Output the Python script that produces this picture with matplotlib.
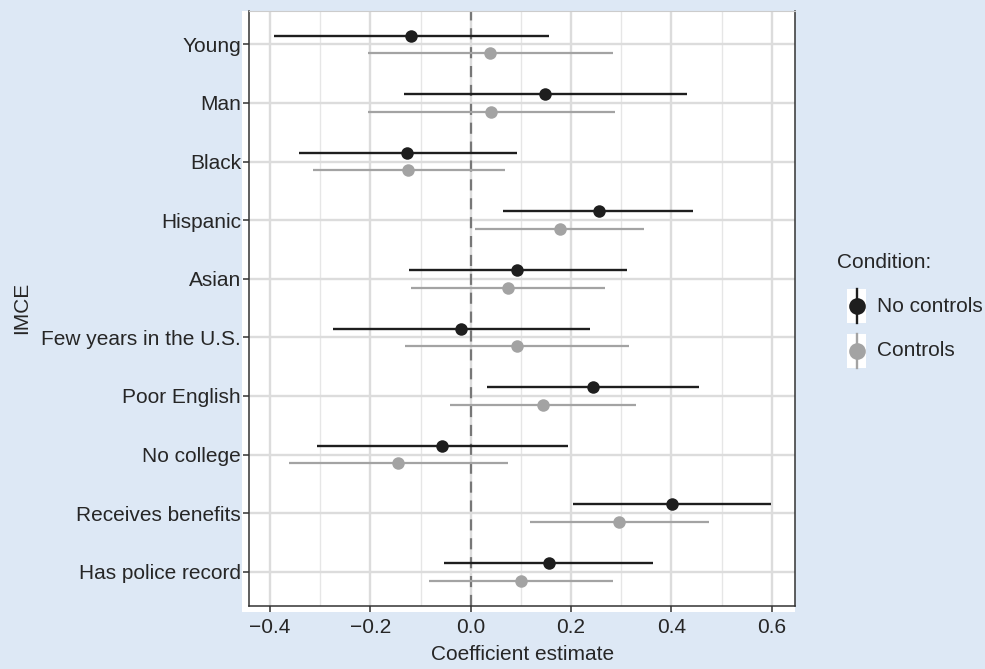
import matplotlib
matplotlib.use("Agg")
import matplotlib.pyplot as plt
from matplotlib.lines import Line2D
from matplotlib.patches import Rectangle
import numpy as np

plt.rcParams['font.family'] = ['Liberation Sans', 'DejaVu Sans']

categories = ["Young", "Man", "Black", "Hispanic", "Asian", "Few years in the U.S.",
              "Poor English", "No college", "Receives benefits", "Has police record"]

# No controls
nc_est = [-0.119, 0.148, -0.126, 0.255, 0.093, -0.019, 0.243, -0.057, 0.401, 0.157]
nc_lo = [-0.392, -0.133, -0.342, 0.065, -0.123, -0.274, 0.033, -0.307, 0.203, -0.054]
nc_hi = [0.156, 0.431, 0.092, 0.444, 0.311, 0.238, 0.455, 0.193, 0.598, 0.364]

# Controls
c_est = [0.039, 0.041, -0.124, 0.177, 0.075, 0.092, 0.144, -0.144, 0.295, 0.100]
c_lo = [-0.205, -0.205, -0.314, 0.009, -0.118, -0.130, -0.041, -0.363, 0.118, -0.084]
c_hi = [0.284, 0.287, 0.069, 0.345, 0.268, 0.315, 0.330, 0.075, 0.474, 0.283]

xticks = [-0.4, -0.2, 0.0, 0.2, 0.4, 0.6]
xminor = [-0.3, -0.1, 0.1, 0.3, 0.5]

W, H = 985, 669
BG = '#dde8f5'
BLACK = '#1e1e1e'
GREY = '#a3a3a3'
TXT = '#262626'
FS = 15

fig = plt.figure(figsize=(W / 100, H / 100), dpi=100, facecolor=BG)

def fx(px):
    return px / W

def fy(py):
    return 1 - py / H

# white panel background extending under ticks
fig.patches.append(Rectangle((fx(242), fy(612)), fx(795.3) - fx(242), fy(11) - fy(612),
                             transform=fig.transFigure, facecolor='white', edgecolor='none', zorder=-5))

ax = fig.add_axes([fx(249.3), fy(605.7), fx(795.3) - fx(249.3), fy(11) - fy(605.7)])
ax.set_facecolor('white')
ax.set_zorder(1)

n = len(categories)
ypos = np.arange(n, 0, -1, dtype=float)
off = 0.15

ax.set_xlim(-0.4413, 0.647)
ax.set_ylim(0.42, n + 0.57)

# grid
for v in xminor:
    ax.axvline(v, color='#e6e6e6', lw=1.0, zorder=1)
for v in xticks:
    ax.axvline(v, color='#dcdcdc', lw=1.7, zorder=1)
for y in ypos:
    ax.axhline(y, color='#dcdcdc', lw=1.7, zorder=1)

ax.axvline(0, color='#777777', lw=1.6, ls=(0, (5, 3.5)), zorder=2)

ax.hlines(ypos - off, c_lo, c_hi, color=GREY, lw=1.6, zorder=3)
ax.plot(c_est, ypos - off, 'o', color=GREY, ms=9, mec='none', zorder=4)
ax.hlines(ypos + off, nc_lo, nc_hi, color=BLACK, lw=1.7, zorder=3)
ax.plot(nc_est, ypos + off, 'o', color=BLACK, ms=9, mec='none', zorder=4)

ax.set_xticks(xticks)
ax.set_xticklabels([f"{t:.1f}".replace('-', '\u2212') for t in xticks])
ax.set_yticks(ypos)
ax.set_yticklabels(categories)
ax.tick_params(axis='both', length=4.5, width=1.1, color='#333333', labelsize=FS,
               labelcolor=TXT)
ax.tick_params(axis='y', pad=1.5)
ax.tick_params(axis='x', pad=4)

for s in ['left', 'bottom', 'right']:
    ax.spines[s].set_color('#333333')
    ax.spines[s].set_linewidth(1.1)
ax.spines['top'].set_color('#cccccc')
ax.spines['top'].set_linewidth(0.8)

ax.set_xlabel("Coefficient estimate", fontsize=FS, color=TXT, labelpad=6)
ax.set_ylabel("IMCE", fontsize=FS, color=TXT, labelpad=7)

# legend drawn manually
fig.text(fx(837), fy(263), "Condition:", fontsize=FS, color=TXT, va='center', ha='left')
for cy, col, lab in [(306, BLACK, "No controls"), (351, GREY, "Controls")]:
    fig.patches.append(Rectangle((fx(847), fy(cy + 17)), fx(866) - fx(847), fy(cy - 17) - fy(cy + 17),
                                 transform=fig.transFigure, facecolor='white', edgecolor='none'))
    fig.lines.append(Line2D([fx(856.5), fx(856.5)], [fy(cy - 17), fy(cy + 17)],
                            transform=fig.transFigure, color=col, lw=1.7))
    fig.lines.append(Line2D([fx(856.5)], [fy(cy)], transform=fig.transFigure, marker='o',
                            color=col, ms=12, mec='none', ls='none'))
    fig.text(fx(877), fy(cy), lab, fontsize=FS, color=TXT, va='center', ha='left')

fig.savefig("out.png", dpi=100, facecolor=BG)
